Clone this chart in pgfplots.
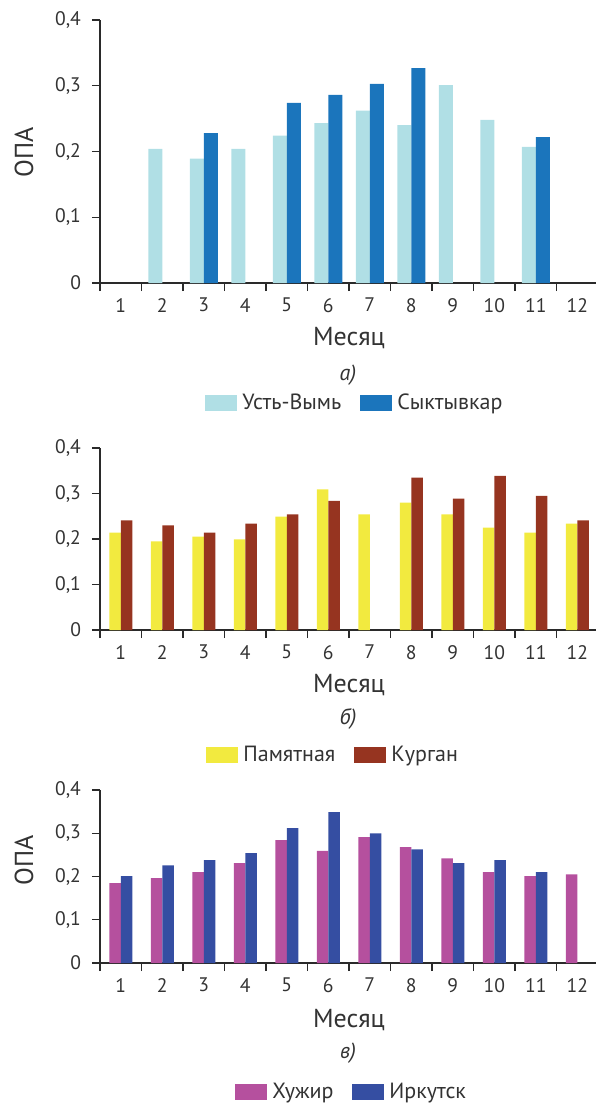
\documentclass[border=0pt]{standalone}
\usepackage{fontspec}
\setmainfont{PT Sans}
\usepackage{pgfplots}
\pgfplotsset{compat=1.18}

\definecolor{cUst}{HTML}{B0DFE5}
\definecolor{cSyk}{HTML}{1B75BC}
\definecolor{cPam}{HTML}{F2EA3F}
\definecolor{cKur}{HTML}{963420}
\definecolor{cHuz}{HTML}{B5509E}
\definecolor{cIrk}{HTML}{354EA2}
\definecolor{axc}{HTML}{2A2A2A}
\definecolor{txc}{HTML}{333333}

\pgfplotsset{
  mybase/.style={
    scale only axis, width=248pt,
    xmin=0.5, xmax=12.45, ymin=0, ymax=0.4,
    axis x line*=bottom, axis y line*=left,
    ybar=0pt,
    xtick={0.5,1.5,2.5,3.5,4.5,5.5,6.5,7.5,8.5,9.5,10.5,11.5},
    xticklabels={\mbox{1},\mbox{2},\mbox{3},\mbox{4},\mbox{5},\mbox{6},\mbox{7},\mbox{8},\mbox{9},\mbox{10},\mbox{11},\mbox{12}},
    xticklabel style={xshift=10.38pt},
    ytick={0,0.1,0.2,0.3,0.4},
    tick align=outside,
    major tick length=4pt,
    axis line style={axc, line width=0.6pt},
    tick style={axc, line width=0.6pt},
    tick label style={text=txc, font=\fontsize{9.8}{11}\selectfont},
    yticklabel style={xshift=-2pt},
    /pgf/number format/use comma,
    /pgf/number format/fixed,
    /pgf/number format/precision=1,
    /pgf/number format/assume math mode=true,
    legend columns=2,
    legend image code/.code={\fill[##1] (0pt,-4pt) rectangle (16pt,4pt);},
    legend style={draw=none, fill=none, anchor=west, inner sep=0pt,
      font=\fontsize{11}{13}\selectfont, text=txc,
      nodes={inner xsep=2.5pt, inner ysep=1pt},
      /tikz/every even column/.append style={column sep=7pt}},
  }
}

\begin{document}
\begin{tikzpicture}
\useasboundingbox (0,0) rectangle (298pt,-552pt);

% ---------- a)
\begin{axis}[mybase, height=131.5pt, at={(50pt,-141.5pt)}, anchor=south west,
  bar width=7pt,
  legend style={at={(0.2117,-0.456)}}]
\addplot[fill=cUst, draw=none] coordinates {(2,0.204) (3,0.189) (4,0.204) (5,0.224) (6,0.243) (7,0.262) (8,0.240) (9,0.301) (10,0.248) (11,0.207)};
\addplot[fill=cSyk, draw=none] coordinates {(3,0.228) (5,0.274) (6,0.286) (7,0.303) (8,0.327) (11,0.222)};
\legend{Усть-Вымь, Сыктывкар}
\end{axis}

% ---------- b)
\begin{axis}[mybase, height=91pt, at={(50pt,-315pt)}, anchor=south west,
  bar width=5.75pt,
  legend style={at={(0.2137,-0.687)}}]
\addplot[fill=cPam, draw=none] coordinates {(1,0.214) (2,0.195) (3,0.205) (4,0.199) (5,0.249) (6,0.309) (7,0.254) (8,0.280) (9,0.254) (10,0.225) (11,0.214) (12,0.234)};
\addplot[fill=cKur, draw=none] coordinates {(1,0.241) (2,0.230) (3,0.214) (4,0.234) (5,0.254) (6,0.284) (8,0.335) (9,0.289) (10,0.339) (11,0.295) (12,0.241)};
\legend{Памятная, Курган}
\end{axis}

% ---------- c)
\begin{axis}[mybase, height=86.5pt, at={(50pt,-481.5pt)}, anchor=south west,
  bar width=5.75pt,
  legend style={at={(0.272,-0.746)}}]
\addplot[fill=cHuz, draw=none] coordinates {(1,0.185) (2,0.196) (3,0.210) (4,0.231) (5,0.284) (6,0.259) (7,0.291) (8,0.268) (9,0.242) (10,0.210) (11,0.201) (12,0.205)};
\addplot[fill=cIrk, draw=none] coordinates {(1,0.201) (2,0.226) (3,0.238) (4,0.254) (5,0.312) (6,0.349) (7,0.300) (8,0.263) (9,0.231) (10,0.238) (11,0.210)};
\legend{Хужир, Иркутск}
\end{axis}

% labels
\begin{scope}[every node/.style={text=txc}]
\node[font=\fontsize{13}{15}\selectfont] at (174.5pt,-169pt) {Месяц};
\node[font=\itshape\fontsize{11}{13}\selectfont] at (174pt,-187.5pt) {а)};
\node[font=\fontsize{13}{15}\selectfont] at (174.5pt,-342.5pt) {Месяц};
\node[font=\itshape\fontsize{11}{13}\selectfont] at (174pt,-359.5pt) {б)};
\node[font=\fontsize{13}{15}\selectfont] at (174.5pt,-510pt) {Месяц};
\node[font=\itshape\fontsize{11}{13}\selectfont] at (174pt,-526.5pt) {в)};
\node[rotate=90, font=\fontsize{13}{15}\selectfont] at (12pt,-76pt) {ОПА};
\node[rotate=90, font=\fontsize{13}{15}\selectfont] at (12pt,-430pt) {ОПА};
\end{scope}
\end{tikzpicture}
\end{document}
